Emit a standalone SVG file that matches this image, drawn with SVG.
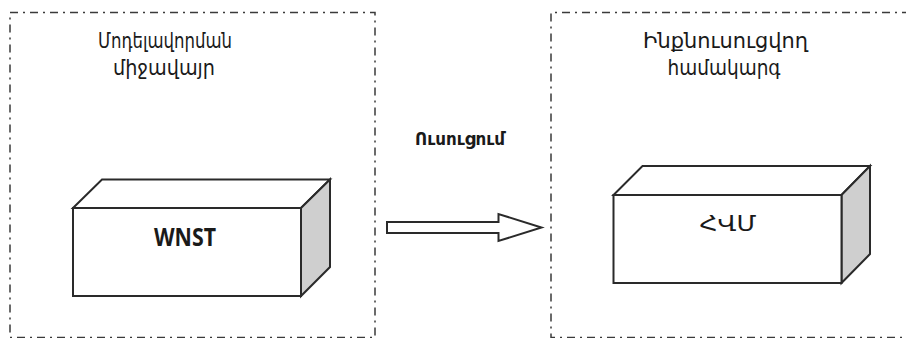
<svg xmlns="http://www.w3.org/2000/svg" width="906" height="338" viewBox="0 0 906 338">
  <style>
    .frame { fill: none; stroke: #3a3a3a; stroke-width: 1.5; stroke-dasharray: 8 5 2 5; }
    .face { fill: #ffffff; stroke: #2a2a2a; stroke-width: 2; stroke-linejoin: miter; }
    .side { fill: #cfcfcf; stroke: #2a2a2a; stroke-width: 2; stroke-linejoin: miter; }
    .title { font-family: "DejaVu Sans", "Noto Sans", sans-serif; font-size: 21px; fill: #1a1a1a; text-anchor: middle; }
    .label { font-family: "Noto Sans", "DejaVu Sans", sans-serif; fill: #1a1a1a; text-anchor: middle; }
  </style>

  <!-- left environment frame -->
  <g id="env-frame">
    <rect class="frame" x="10" y="12.5" width="365" height="325"/>
    <text class="title" x="165" y="48" textLength="134" lengthAdjust="spacingAndGlyphs">Մոդելավորման</text>
    <text class="title" x="164" y="75" textLength="102" lengthAdjust="spacingAndGlyphs">միջավայր</text>
  </g>

  <!-- right system frame -->
  <g id="system-frame">
    <path class="frame" d="M 950 12.5 H 551 V 337.5 H 950"/>
    <text class="title" x="725.5" y="48" textLength="165" lengthAdjust="spacingAndGlyphs">Ինքնուսուցվող</text>
    <text class="title" x="724" y="75" textLength="113" lengthAdjust="spacingAndGlyphs">համակարգ</text>
  </g>

  <!-- WNST block -->
  <g id="wnst">
    <polygon class="face" points="73,208 102,179.5 330,179.5 301,208"/>
    <polygon class="side" points="301,208 330,179.5 330,267 301,296"/>
    <rect class="face" x="73" y="208" width="228" height="88"/>
    <text class="label" x="185" y="245.5" font-size="25" font-weight="bold" textLength="62" lengthAdjust="spacingAndGlyphs">WNST</text>
  </g>

  <!-- ՀՎՄ block -->
  <g id="hvm">
    <polygon class="face" points="613.5,195 642.5,166 870,166 841.5,195"/>
    <polygon class="side" points="841.5,195 870,166 870,254 841.5,283"/>
    <rect class="face" x="613.5" y="195" width="228" height="88"/>
    <text class="label" x="728" y="230.5" font-size="21" font-weight="500" textLength="57" lengthAdjust="spacingAndGlyphs">ՀՎՄ</text>
  </g>

  <!-- training connector -->
  <g id="connectors">
    <text class="label" x="460" y="145" font-size="18" font-weight="bold" textLength="90" lengthAdjust="spacingAndGlyphs">Ուսուցում</text>
    <polygon class="face" points="387,222 498.5,222 498.5,214 541.5,227.5 498.5,241 498.5,233 387,233"/>
  </g>
</svg>
